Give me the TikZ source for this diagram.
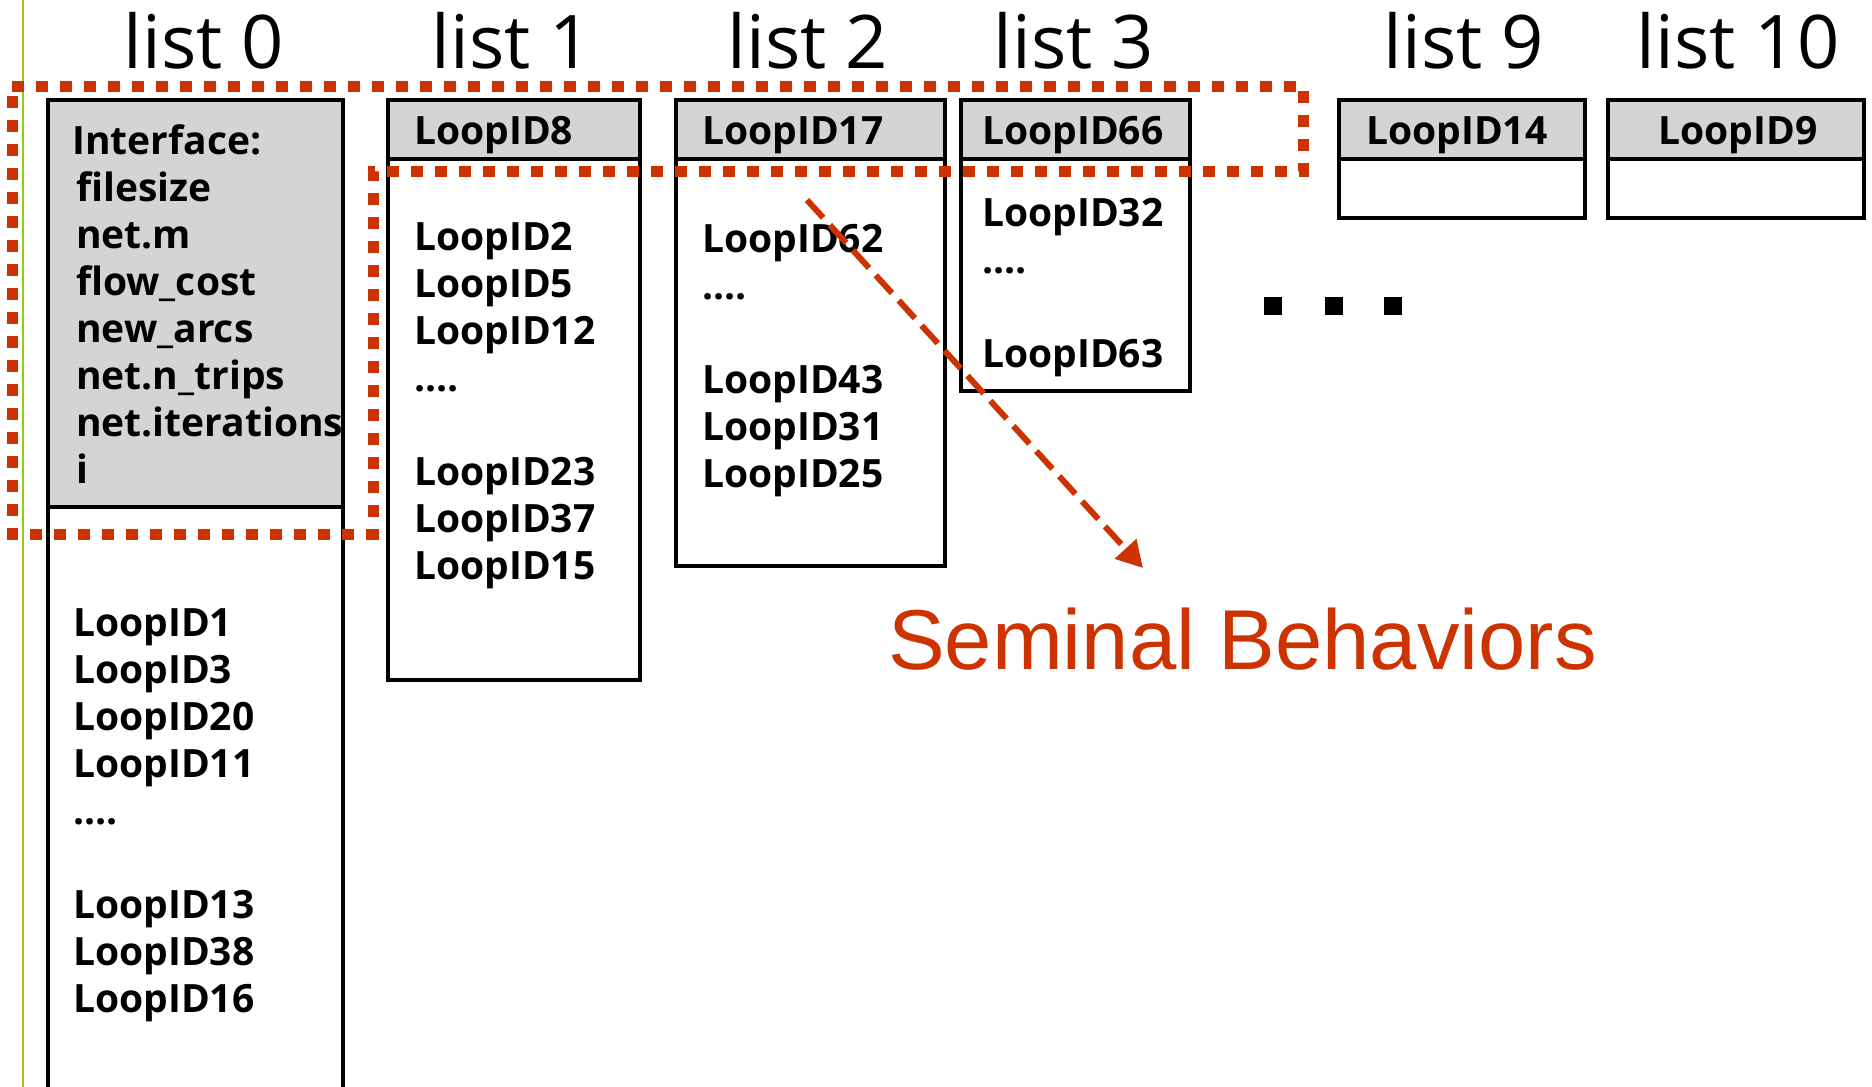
\documentclass[tikz,border=0pt]{standalone}
\usepackage{fontspec}
\setmainfont{Open Sans}
\newfontfamily\labelfont{Liberation Sans}
\usetikzlibrary{arrows.meta}
\definecolor{accent}{RGB}{204,51,0}
\definecolor{hdrgray}{RGB}{211,212,214}
\definecolor{marginline}{RGB}{150,200,20}
\tikzset{
  title/.style={font=\fontsize{74}{74}\selectfont, anchor=base, inner sep=0pt},
  entry/.style={font=\fontsize{39}{47}\selectfont\bfseries, anchor=base west, inner sep=0pt},
  boxline/.style={draw=black, line width=3.2pt},
  region/.style={draw=accent, line width=11pt, dash pattern=on 12pt off 12pt},
  pointer/.style={draw=accent, line width=6pt, dash pattern=on 24pt off 10pt,
    -{Triangle[length=26pt,width=28pt]}},
  dotmark/.style={fill=black, minimum size=18pt, inner sep=0pt},
  caption/.style={font=\labelfont\fontsize{85}{85}\selectfont, text=accent,
    anchor=base west, inner sep=0pt},
}
\begin{document}
\begin{tikzpicture}[x=1pt,y=-1pt]
\useasboundingbox (0,0) rectangle (1872,1087);
\clip (0,0) rectangle (1872,1087);

% margin rule
\draw[marginline, line width=2pt] (22.5,0) -- (22.5,1087);

% list 0: tall header with the interface variables, open at the bottom
\fill[hdrgray] (48,100) rectangle (343,507);
\draw[boxline] (48,1100) -- (48,100) -- (343,100) -- (343,1100);
\draw[boxline] (48,507) -- (343,507);

% lists 1,2,3,9,10: header band plus body
\foreach \xa/\xb/\yb in {388/640/680, 676/945/566, 961/1190/391, 1339/1585/218, 1608/1864/218}{
  \fill[hdrgray] (\xa,100) rectangle (\xb,159);
  \draw[boxline] (\xa,100) rectangle (\xb,\yb);
  \draw[boxline] (\xa,159) -- (\xb,159);
}

% column titles
\node[title] (t0) at (204,68) {list 0};
\node[title] (t1) at (512,68) {list 1};
\node[title] (t2) at (808,68) {list 2};
\node[title] (t3) at (1074,68) {list 3};
\node[title] (t9) at (1464,68) {list 9};
\node[title] (t10) at (1738,68) {list 10};

% list 0 contents
\node[entry] (ifc) at (72,154) {Interface:};
\foreach \t [count=\k] in {filesize, net.m, flow\_cost, new\_arcs, net.n\_trips, net.iterations, i}
  \node[entry] (iv\k) at (76,{154+47*\k}) {\t};
\foreach \t/\k in {LoopID1/0, LoopID3/1, LoopID20/2, LoopID11/3, LoopID13/6, LoopID38/7, LoopID16/8}
  \node[entry] (a\t) at (73,{636+47*\k}) {\t};
\node[entry] (adots) at (73,824) {....};

% list 1 contents
\node[entry] (h1) at (414,144) {LoopID8};
\foreach \t/\k in {LoopID2/0, LoopID5/1, LoopID12/2, LoopID23/5, LoopID37/6, LoopID15/7}
  \node[entry] (b\t) at (414,{250+47*\k}) {\t};
\node[entry] (bdots) at (414,391) {....};

% list 2 contents
\node[entry] (h2) at (702,144) {LoopID17};
\foreach \t/\k in {LoopID62/0, LoopID43/3, LoopID31/4, LoopID25/5}
  \node[entry] (c\t) at (702,{252+47*\k}) {\t};
\node[entry] (cdots) at (702,299) {....};

% list 3 contents
\node[entry] (h3) at (982,144) {LoopID66};
\node[entry] (dLoopID32) at (982,226) {LoopID32};
\node[entry] (ddots) at (982,273) {....};
\node[entry] (dLoopID63) at (982,367) {LoopID63};

% lists 9 and 10
\node[entry] (h9) at (1366,144) {LoopID14};
\node[entry, anchor=base] (h10) at (1738,144) {LoopID9};

% ellipsis between list 3 and list 9
\node[dotmark] (e1) at (1273,306) {};
\node[dotmark] (e2) at (1334,306) {};
\node[dotmark] (e3) at (1393,306) {};

% highlighted region: interface plus first entries
\draw[region] (12,86) -- (1303,86) -- (1303,171) -- (373,171) -- (373,534) -- (12,534) -- cycle;

% pointer to the caption
\coordinate (pa) at (807,200);
\coordinate (pb) at (1143,568);
\draw[pointer] (pa) -- (pb);
\node[caption] (sb) at (888,669) {Seminal Behaviors};
\end{tikzpicture}
\end{document}
